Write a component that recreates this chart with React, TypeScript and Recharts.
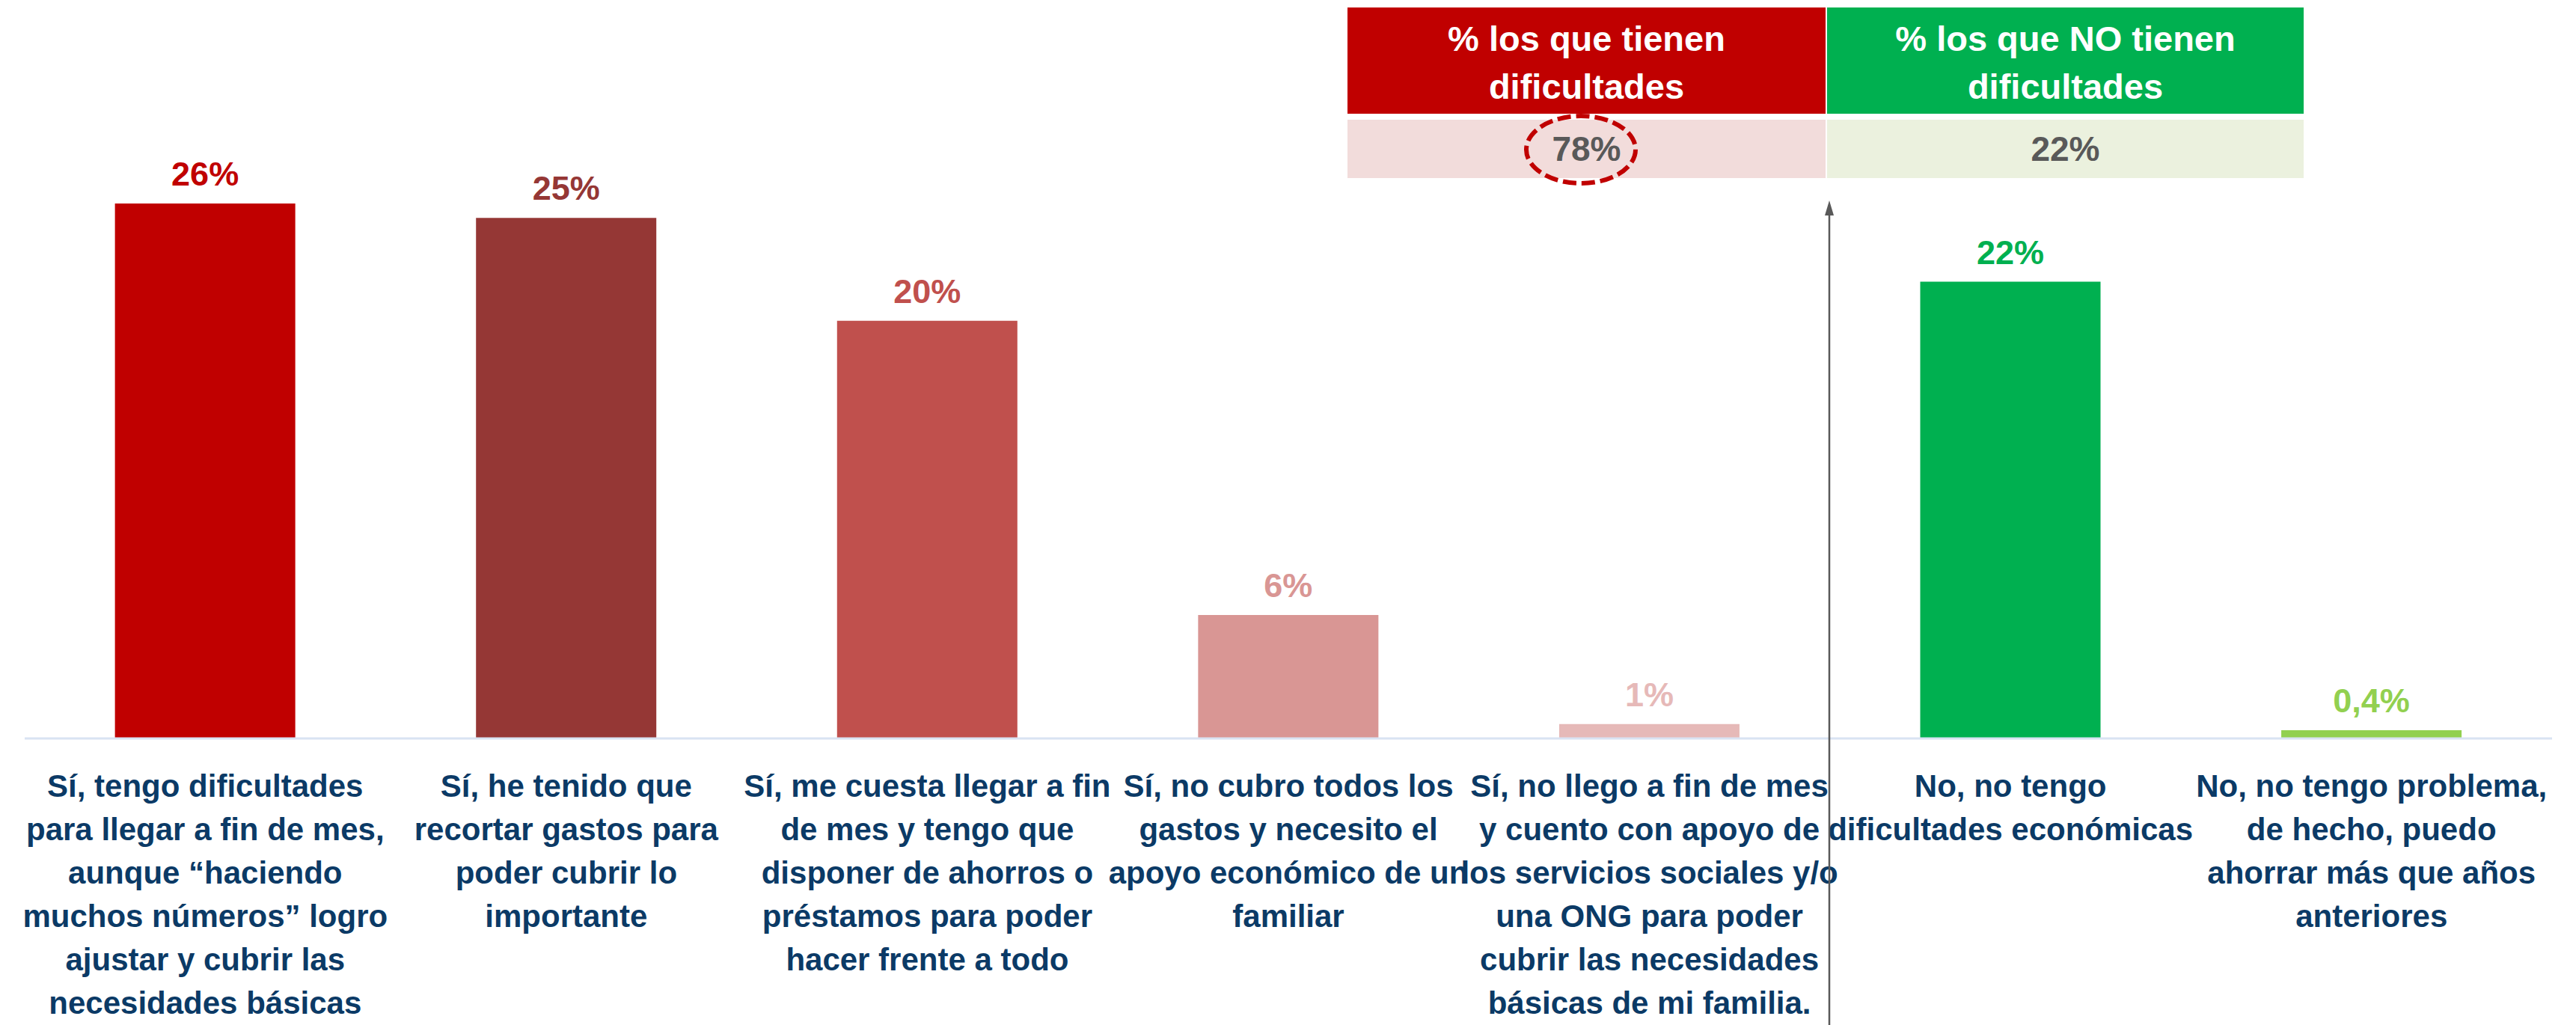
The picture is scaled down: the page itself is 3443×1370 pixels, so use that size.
import React from 'react';
import { BarChart, Bar, XAxis, YAxis, Cell, LabelList } from 'recharts';

const categoryLines: string[][] = [
  ['Sí, tengo dificultades', 'para llegar a fin de mes,', 'aunque “haciendo', 'muchos números” logro', 'ajustar y cubrir las', 'necesidades básicas'],
  ['Sí, he tenido que', 'recortar gastos para', 'poder cubrir lo', 'importante'],
  ['Sí, me cuesta llegar a fin', 'de mes y tengo que', 'disponer de ahorros o', 'préstamos para poder', 'hacer frente a todo'],
  ['Sí, no cubro todos los', 'gastos y necesito el', 'apoyo económico de un', 'familiar'],
  ['Sí, no llego a fin de mes', 'y cuento con apoyo de', 'los servicios sociales y/o', 'una ONG para poder', 'cubrir las necesidades', 'básicas de mi familia.'],
  ['No, no tengo', 'dificultades económicas'],
  ['No, no tengo problema,', 'de hecho, puedo', 'ahorrar más que años', 'anteriores'],
];
const values = [26.0, 25.3, 20.3, 6.0, 0.7, 22.2, 0.4];
const valueLabels = ['26%', '25%', '20%', '6%', '1%', '22%', '0,4%'];
const barColors = ['#C00000', '#953735', '#C0504D', '#D99694', '#E6B9B8', '#00B050', '#92D050'];
const summaryHeaders: string[][] = [
  ['% los que tienen', 'dificultades'],
  ['% los que NO tienen', 'dificultades'],
];
const summaryValues = ['78%', '22%'];
const summaryHeaderColors = ['#C00000', '#00B050'];
const summaryValueColors = ['#F2DCDB', '#EBF1DE'];

const FONT = "'Liberation Sans', Arial, sans-serif";
const TEXT_NAVY = '#0B3A66';

const data = categoryLines.map((lines, i) => ({
  name: lines.join(' '),
  value: values[i],
}));

const CategoryTick = (props: any) => {
  const { x, y, index } = props;
  const lines = categoryLines[index] || [];
  return (
    <text
      x={x}
      y={y + 78}
      textAnchor="middle"
      fill={TEXT_NAVY}
      fontFamily={FONT}
      fontWeight={700}
      fontSize={42}
    >
      {lines.map((l, i) => (
        <tspan key={i} x={x} dy={i === 0 ? 0 : 58}>
          {l}
        </tspan>
      ))}
    </text>
  );
};

const ValueLabel = (props: any) => {
  const { x, y, width, index } = props;
  return (
    <text
      x={Number(x) + Number(width) / 2}
      y={Number(y) - 24}
      textAnchor="middle"
      fill={barColors[index]}
      fontFamily={FONT}
      fontWeight={700}
      fontSize={45}
    >
      {valueLabels[index]}
    </text>
  );
};

export default function App() {
  const tableLeft = 1801;
  const tableMid = 2441;
  const tableRight = 3079;
  const cellX = [
    [tableLeft, tableMid - 1],
    [tableMid + 1, tableRight],
  ];
  return (
    <div
      style={{
        position: 'absolute',
        left: 0,
        top: 0,
        width: 3443,
        height: 1370,
        background: '#ffffff',
        overflow: 'hidden',
      }}
    >
      <BarChart
        width={3443}
        height={1370}
        data={data}
        margin={{ top: 162, right: 32, bottom: 0, left: 33 }}
        barCategoryGap="25%"
      >
        <YAxis hide domain={[0, 30]} />
        <XAxis
          dataKey="name"
          height={383}
          interval={0}
          tickLine={false}
          tickSize={0}
          tickMargin={0}
          axisLine={{ stroke: '#D9E3F3', strokeWidth: 3 }}
          tick={<CategoryTick />}
        />
        <Bar dataKey="value" isAnimationActive={false}>
          {data.map((_, i) => (
            <Cell key={i} fill={barColors[i]} />
          ))}
          <LabelList dataKey="value" content={<ValueLabel />} />
        </Bar>
      </BarChart>
      <svg
        width={3443}
        height={1370}
        style={{ position: 'absolute', left: 0, top: 0, pointerEvents: 'none' }}
      >
        {/* divider with arrow */}
        <line x1={2445} y1={284} x2={2445} y2={1370} stroke="#595959" strokeWidth={2.5} />
        <polygon points="2445,268 2439,288 2451,288" fill="#595959" />
        {/* summary table */}
        {summaryHeaders.map((lines, i) => {
          const [x0, x1] = cellX[i];
          const cx = (x0 + x1) / 2;
          return (
            <g key={i}>
              <rect x={x0} y={10} width={x1 - x0} height={142} fill={summaryHeaderColors[i]} />
              <rect x={x0} y={160} width={x1 - x0} height={78} fill={summaryValueColors[i]} />
              <text
                x={cx}
                y={68}
                textAnchor="middle"
                fill="#ffffff"
                fontFamily={FONT}
                fontWeight={700}
                fontSize={47}
              >
                {lines.map((l, j) => (
                  <tspan key={j} x={cx} dy={j === 0 ? 0 : 64}>
                    {l}
                  </tspan>
                ))}
              </text>
              <text
                x={cx}
                y={215}
                textAnchor="middle"
                fill="#595959"
                fontFamily={FONT}
                fontWeight={700}
                fontSize={46}
              >
                {summaryValues[i]}
              </text>
            </g>
          );
        })}
        <ellipse
          cx={2113}
          cy={200}
          rx={73}
          ry={45}
          fill="none"
          stroke="#C00000"
          strokeWidth={6}
          strokeDasharray="18 7"
        />
      </svg>
    </div>
  );
}
